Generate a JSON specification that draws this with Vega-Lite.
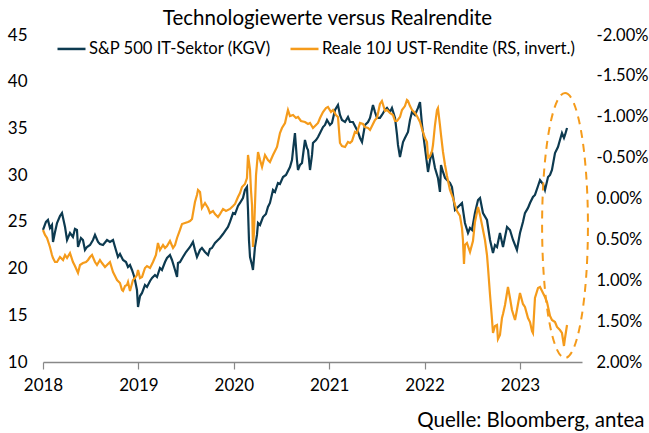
{
  "$schema": "https://vega.github.io/schema/vega-lite/v6.json",
  "width": 539,
  "height": 327,
  "autosize": {"type": "none"},
  "padding": {"left": 43, "top": 35, "right": 67, "bottom": 71},
  "background": "#ffffff",
  "config": {
    "font": "Lato",
    "view": {"stroke": null},
    "axis": {"grid": false, "labelFont": "Lato", "labelFontSize": 17, "labelColor": "#000000"}
  },
  "title": {"text": "Technologiewerte versus Realrendite", "fontSize": 20.5, "fontWeight": "normal", "color": "#000000", "frame": "group", "anchor": "middle", "dx": 15, "dy": 11, "offset": 8},
  "datasets": {
    "pe": [
      {"t":2018.000,"v":24.13},{"t":2018.031,"v":24.99},{"t":2018.052,"v":25.20},{"t":2018.073,"v":24.34},{"t":2018.094,"v":24.67},{"t":2018.105,"v":22.85},{"t":2018.126,"v":23.92},{"t":2018.147,"v":24.88},{"t":2018.178,"v":25.63},{"t":2018.199,"v":25.94},{"t":2018.231,"v":24.45},{"t":2018.252,"v":23.06},{"t":2018.283,"v":23.81},{"t":2018.314,"v":23.38},{"t":2018.335,"v":24.24},{"t":2018.356,"v":24.13},{"t":2018.367,"v":22.31},{"t":2018.398,"v":23.27},{"t":2018.419,"v":23.06},{"t":2018.440,"v":21.99},{"t":2018.461,"v":22.31},{"t":2018.493,"v":22.52},{"t":2018.524,"v":23.06},{"t":2018.545,"v":23.60},{"t":2018.577,"v":22.85},{"t":2018.597,"v":22.63},{"t":2018.629,"v":22.52},{"t":2018.671,"v":23.06},{"t":2018.702,"v":22.85},{"t":2018.734,"v":23.06},{"t":2018.755,"v":22.31},{"t":2018.786,"v":21.24},{"t":2018.807,"v":21.56},{"t":2018.839,"v":20.92},{"t":2018.870,"v":20.70},{"t":2018.891,"v":20.17},{"t":2018.912,"v":20.38},{"t":2018.933,"v":19.85},{"t":2018.954,"v":19.21},{"t":2018.964,"v":18.78},{"t":2018.985,"v":17.71},{"t":2018.996,"v":15.89},{"t":2019.017,"v":17.06},{"t":2019.038,"v":17.39},{"t":2019.069,"v":18.24},{"t":2019.090,"v":18.03},{"t":2019.122,"v":18.67},{"t":2019.143,"v":19.00},{"t":2019.174,"v":19.31},{"t":2019.195,"v":19.10},{"t":2019.226,"v":20.06},{"t":2019.247,"v":19.85},{"t":2019.279,"v":20.70},{"t":2019.300,"v":21.13},{"t":2019.331,"v":21.45},{"t":2019.352,"v":20.92},{"t":2019.384,"v":19.85},{"t":2019.405,"v":19.10},{"t":2019.415,"v":20.60},{"t":2019.436,"v":20.70},{"t":2019.467,"v":21.24},{"t":2019.499,"v":21.77},{"t":2019.541,"v":22.31},{"t":2019.572,"v":22.85},{"t":2019.593,"v":21.99},{"t":2019.614,"v":21.24},{"t":2019.646,"v":21.99},{"t":2019.666,"v":22.20},{"t":2019.698,"v":21.77},{"t":2019.730,"v":21.45},{"t":2019.750,"v":22.10},{"t":2019.771,"v":22.20},{"t":2019.803,"v":22.74},{"t":2019.834,"v":23.06},{"t":2019.855,"v":23.27},{"t":2019.887,"v":23.70},{"t":2019.908,"v":24.02},{"t":2019.939,"v":24.45},{"t":2019.960,"v":24.99},{"t":2019.992,"v":25.94},{"t":2020.013,"v":25.84},{"t":2020.044,"v":26.70},{"t":2020.065,"v":27.02},{"t":2020.096,"v":27.55},{"t":2020.117,"v":28.41},{"t":2020.138,"v":28.73},{"t":2020.149,"v":26.27},{"t":2020.159,"v":23.06},{"t":2020.170,"v":21.24},{"t":2020.191,"v":20.38},{"t":2020.201,"v":19.85},{"t":2020.222,"v":22.31},{"t":2020.243,"v":23.60},{"t":2020.254,"v":24.88},{"t":2020.275,"v":24.67},{"t":2020.306,"v":25.52},{"t":2020.337,"v":25.84},{"t":2020.358,"v":26.59},{"t":2020.379,"v":27.02},{"t":2020.411,"v":28.41},{"t":2020.432,"v":28.20},{"t":2020.463,"v":29.16},{"t":2020.484,"v":29.05},{"t":2020.516,"v":29.80},{"t":2020.547,"v":30.02},{"t":2020.589,"v":30.87},{"t":2020.610,"v":31.62},{"t":2020.621,"v":32.69},{"t":2020.641,"v":34.51},{"t":2020.662,"v":31.62},{"t":2020.673,"v":30.55},{"t":2020.694,"v":31.09},{"t":2020.715,"v":31.30},{"t":2020.746,"v":33.76},{"t":2020.767,"v":32.91},{"t":2020.778,"v":32.69},{"t":2020.799,"v":30.55},{"t":2020.820,"v":32.16},{"t":2020.830,"v":33.44},{"t":2020.862,"v":33.76},{"t":2020.883,"v":34.08},{"t":2020.904,"v":34.51},{"t":2020.935,"v":35.15},{"t":2020.956,"v":35.37},{"t":2020.977,"v":35.90},{"t":2021.008,"v":35.37},{"t":2021.029,"v":35.58},{"t":2021.061,"v":36.97},{"t":2021.092,"v":37.51},{"t":2021.113,"v":36.44},{"t":2021.134,"v":35.90},{"t":2021.166,"v":35.69},{"t":2021.197,"v":36.22},{"t":2021.218,"v":35.69},{"t":2021.249,"v":35.69},{"t":2021.281,"v":35.05},{"t":2021.302,"v":34.62},{"t":2021.323,"v":33.98},{"t":2021.344,"v":33.55},{"t":2021.375,"v":35.37},{"t":2021.407,"v":35.69},{"t":2021.428,"v":36.12},{"t":2021.459,"v":37.51},{"t":2021.480,"v":36.76},{"t":2021.501,"v":36.12},{"t":2021.532,"v":36.12},{"t":2021.553,"v":36.44},{"t":2021.585,"v":36.97},{"t":2021.606,"v":37.19},{"t":2021.637,"v":36.76},{"t":2021.658,"v":37.19},{"t":2021.690,"v":36.12},{"t":2021.711,"v":34.30},{"t":2021.721,"v":33.23},{"t":2021.742,"v":31.94},{"t":2021.774,"v":33.55},{"t":2021.794,"v":33.98},{"t":2021.826,"v":34.62},{"t":2021.847,"v":35.90},{"t":2021.868,"v":36.76},{"t":2021.899,"v":36.44},{"t":2021.931,"v":37.19},{"t":2021.952,"v":37.83},{"t":2021.973,"v":35.37},{"t":2022.004,"v":32.91},{"t":2022.036,"v":30.34},{"t":2022.057,"v":31.62},{"t":2022.078,"v":32.48},{"t":2022.109,"v":30.76},{"t":2022.140,"v":29.70},{"t":2022.161,"v":28.20},{"t":2022.172,"v":31.09},{"t":2022.193,"v":30.34},{"t":2022.214,"v":29.70},{"t":2022.235,"v":29.48},{"t":2022.266,"v":29.16},{"t":2022.287,"v":28.73},{"t":2022.319,"v":26.27},{"t":2022.350,"v":26.59},{"t":2022.392,"v":27.02},{"t":2022.423,"v":24.88},{"t":2022.455,"v":23.81},{"t":2022.476,"v":24.34},{"t":2022.497,"v":24.13},{"t":2022.528,"v":25.94},{"t":2022.560,"v":27.34},{"t":2022.581,"v":27.55},{"t":2022.612,"v":25.94},{"t":2022.654,"v":25.20},{"t":2022.686,"v":23.06},{"t":2022.717,"v":21.67},{"t":2022.738,"v":22.52},{"t":2022.759,"v":22.31},{"t":2022.790,"v":23.81},{"t":2022.822,"v":22.31},{"t":2022.864,"v":24.45},{"t":2022.895,"v":24.13},{"t":2022.927,"v":23.06},{"t":2022.968,"v":21.99},{"t":2023.000,"v":23.81},{"t":2023.031,"v":24.99},{"t":2023.052,"v":25.94},{"t":2023.084,"v":26.49},{"t":2023.105,"v":27.02},{"t":2023.136,"v":27.66},{"t":2023.157,"v":27.88},{"t":2023.189,"v":28.84},{"t":2023.210,"v":29.48},{"t":2023.241,"v":29.05},{"t":2023.262,"v":28.41},{"t":2023.294,"v":29.80},{"t":2023.315,"v":30.02},{"t":2023.335,"v":30.55},{"t":2023.367,"v":32.37},{"t":2023.398,"v":33.01},{"t":2023.419,"v":33.76},{"t":2023.440,"v":34.51},{"t":2023.461,"v":33.98},{"t":2023.472,"v":34.30},{"t":2023.493,"v":35.05}
    ],
    "ry": [
      {"t":2018.000,"v":0.385},{"t":2018.021,"v":0.446},{"t":2018.042,"v":0.483},{"t":2018.073,"v":0.593},{"t":2018.094,"v":0.691},{"t":2018.105,"v":0.728},{"t":2018.126,"v":0.777},{"t":2018.147,"v":0.777},{"t":2018.178,"v":0.716},{"t":2018.210,"v":0.752},{"t":2018.231,"v":0.691},{"t":2018.252,"v":0.728},{"t":2018.283,"v":0.667},{"t":2018.314,"v":0.777},{"t":2018.335,"v":0.826},{"t":2018.367,"v":0.911},{"t":2018.388,"v":0.813},{"t":2018.419,"v":0.789},{"t":2018.451,"v":0.777},{"t":2018.472,"v":0.752},{"t":2018.493,"v":0.716},{"t":2018.514,"v":0.691},{"t":2018.545,"v":0.777},{"t":2018.566,"v":0.813},{"t":2018.597,"v":0.752},{"t":2018.618,"v":0.789},{"t":2018.650,"v":0.838},{"t":2018.671,"v":0.813},{"t":2018.702,"v":0.777},{"t":2018.734,"v":0.899},{"t":2018.755,"v":0.948},{"t":2018.776,"v":0.997},{"t":2018.807,"v":1.034},{"t":2018.828,"v":1.119},{"t":2018.839,"v":1.131},{"t":2018.860,"v":1.070},{"t":2018.880,"v":1.058},{"t":2018.891,"v":1.021},{"t":2018.912,"v":1.131},{"t":2018.943,"v":0.997},{"t":2018.964,"v":0.973},{"t":2018.985,"v":0.936},{"t":2018.996,"v":0.875},{"t":2019.017,"v":0.973},{"t":2019.038,"v":0.960},{"t":2019.048,"v":0.924},{"t":2019.069,"v":0.850},{"t":2019.090,"v":0.826},{"t":2019.122,"v":0.850},{"t":2019.153,"v":0.777},{"t":2019.184,"v":0.691},{"t":2019.205,"v":0.544},{"t":2019.226,"v":0.630},{"t":2019.258,"v":0.569},{"t":2019.279,"v":0.605},{"t":2019.300,"v":0.581},{"t":2019.331,"v":0.520},{"t":2019.363,"v":0.605},{"t":2019.384,"v":0.569},{"t":2019.405,"v":0.483},{"t":2019.436,"v":0.385},{"t":2019.457,"v":0.312},{"t":2019.488,"v":0.300},{"t":2019.520,"v":0.287},{"t":2019.541,"v":0.275},{"t":2019.562,"v":0.251},{"t":2019.593,"v":0.043},{"t":2019.614,"v":-0.043},{"t":2019.625,"v":-0.104},{"t":2019.646,"v":-0.080},{"t":2019.666,"v":0.116},{"t":2019.698,"v":0.055},{"t":2019.730,"v":0.116},{"t":2019.750,"v":0.177},{"t":2019.782,"v":0.153},{"t":2019.803,"v":0.190},{"t":2019.834,"v":0.226},{"t":2019.855,"v":0.190},{"t":2019.887,"v":0.128},{"t":2019.918,"v":0.153},{"t":2019.960,"v":0.128},{"t":2019.992,"v":0.092},{"t":2020.013,"v":0.067},{"t":2020.044,"v":-0.018},{"t":2020.065,"v":-0.067},{"t":2020.086,"v":-0.141},{"t":2020.117,"v":-0.177},{"t":2020.138,"v":-0.251},{"t":2020.149,"v":-0.532},{"t":2020.170,"v":-0.349},{"t":2020.180,"v":-0.104},{"t":2020.191,"v":0.080},{"t":2020.201,"v":0.593},{"t":2020.212,"v":0.410},{"t":2020.233,"v":-0.287},{"t":2020.254,"v":-0.569},{"t":2020.275,"v":-0.471},{"t":2020.296,"v":-0.385},{"t":2020.327,"v":-0.532},{"t":2020.358,"v":-0.471},{"t":2020.379,"v":-0.446},{"t":2020.411,"v":-0.532},{"t":2020.432,"v":-0.581},{"t":2020.453,"v":-0.630},{"t":2020.484,"v":-0.801},{"t":2020.505,"v":-0.862},{"t":2020.537,"v":-0.924},{"t":2020.558,"v":-1.034},{"t":2020.568,"v":-1.083},{"t":2020.589,"v":-1.009},{"t":2020.621,"v":-1.021},{"t":2020.652,"v":-0.985},{"t":2020.673,"v":-0.997},{"t":2020.704,"v":-0.948},{"t":2020.746,"v":-0.936},{"t":2020.778,"v":-0.911},{"t":2020.799,"v":-0.924},{"t":2020.830,"v":-0.862},{"t":2020.862,"v":-0.899},{"t":2020.883,"v":-0.924},{"t":2020.904,"v":-0.985},{"t":2020.935,"v":-1.058},{"t":2020.966,"v":-1.107},{"t":2020.987,"v":-1.119},{"t":2021.019,"v":-1.058},{"t":2021.040,"v":-1.083},{"t":2021.071,"v":-1.021},{"t":2021.092,"v":-0.997},{"t":2021.113,"v":-0.679},{"t":2021.134,"v":-0.642},{"t":2021.166,"v":-0.630},{"t":2021.197,"v":-0.691},{"t":2021.218,"v":-0.679},{"t":2021.239,"v":-0.703},{"t":2021.270,"v":-0.814},{"t":2021.291,"v":-0.801},{"t":2021.323,"v":-0.924},{"t":2021.354,"v":-0.911},{"t":2021.375,"v":-0.875},{"t":2021.407,"v":-0.862},{"t":2021.428,"v":-0.838},{"t":2021.459,"v":-0.911},{"t":2021.480,"v":-0.960},{"t":2021.501,"v":-0.985},{"t":2021.532,"v":-1.156},{"t":2021.553,"v":-1.193},{"t":2021.585,"v":-1.070},{"t":2021.606,"v":-1.083},{"t":2021.637,"v":-1.046},{"t":2021.669,"v":-1.021},{"t":2021.690,"v":-0.948},{"t":2021.711,"v":-0.948},{"t":2021.742,"v":-0.997},{"t":2021.763,"v":-1.083},{"t":2021.794,"v":-1.131},{"t":2021.815,"v":-1.205},{"t":2021.826,"v":-1.193},{"t":2021.847,"v":-1.131},{"t":2021.868,"v":-1.083},{"t":2021.899,"v":-1.046},{"t":2021.920,"v":-1.009},{"t":2021.952,"v":-0.936},{"t":2021.973,"v":-0.850},{"t":2022.004,"v":-0.740},{"t":2022.025,"v":-0.691},{"t":2022.036,"v":-0.495},{"t":2022.057,"v":-0.520},{"t":2022.078,"v":-0.581},{"t":2022.088,"v":-0.654},{"t":2022.109,"v":-0.899},{"t":2022.130,"v":-1.083},{"t":2022.140,"v":-1.107},{"t":2022.161,"v":-0.899},{"t":2022.172,"v":-0.777},{"t":2022.193,"v":-0.569},{"t":2022.214,"v":-0.410},{"t":2022.235,"v":-0.275},{"t":2022.266,"v":-0.104},{"t":2022.298,"v":-0.006},{"t":2022.319,"v":0.080},{"t":2022.340,"v":0.153},{"t":2022.371,"v":0.214},{"t":2022.392,"v":0.361},{"t":2022.402,"v":0.508},{"t":2022.413,"v":0.801},{"t":2022.423,"v":0.569},{"t":2022.444,"v":0.544},{"t":2022.476,"v":0.654},{"t":2022.507,"v":0.520},{"t":2022.528,"v":0.287},{"t":2022.560,"v":0.104},{"t":2022.581,"v":0.202},{"t":2022.602,"v":0.324},{"t":2022.633,"v":0.508},{"t":2022.654,"v":0.691},{"t":2022.665,"v":0.850},{"t":2022.686,"v":1.180},{"t":2022.707,"v":1.486},{"t":2022.717,"v":1.645},{"t":2022.738,"v":1.560},{"t":2022.759,"v":1.547},{"t":2022.769,"v":1.719},{"t":2022.790,"v":1.670},{"t":2022.811,"v":1.462},{"t":2022.822,"v":1.413},{"t":2022.843,"v":1.303},{"t":2022.874,"v":1.083},{"t":2022.895,"v":1.217},{"t":2022.916,"v":1.364},{"t":2022.948,"v":1.486},{"t":2022.968,"v":1.364},{"t":2023.000,"v":1.156},{"t":2023.031,"v":1.290},{"t":2023.052,"v":1.327},{"t":2023.084,"v":1.462},{"t":2023.105,"v":1.511},{"t":2023.126,"v":1.621},{"t":2023.136,"v":1.645},{"t":2023.157,"v":1.217},{"t":2023.189,"v":1.095},{"t":2023.210,"v":1.083},{"t":2023.241,"v":1.156},{"t":2023.262,"v":1.205},{"t":2023.283,"v":1.266},{"t":2023.315,"v":1.437},{"t":2023.335,"v":1.486},{"t":2023.367,"v":1.511},{"t":2023.388,"v":1.572},{"t":2023.419,"v":1.609},{"t":2023.440,"v":1.645},{"t":2023.461,"v":1.804},{"t":2023.472,"v":1.706},{"t":2023.493,"v":1.547}
    ],
    "circle": [{"t": 2023.472, "v": 24.61}]
  },
  "layer": [
    {
      "data": {"name": "pe"},
      "mark": {"type": "line", "strokeWidth": 2.2},
      "encoding": {
        "x": {
          "field": "t", "type": "quantitative",
          "scale": {"domain": [2018, 2023.65], "nice": false, "zero": false},
          "axis": {
            "values": [2018, 2019, 2020, 2021, 2022, 2023], "format": "d", "labelFlush": false,
            "domainColor": "#888888", "domainWidth": 1.5, "tickColor": "#888888", "tickSize": 7, "tickWidth": 1.2,
            "labelPadding": 8,
            "title": "Quelle: Bloomberg, antea", "titleFont": "Lato", "titleFontSize": 20.5, "titleFontWeight": "normal", "titleColor": "#000000",
            "titleAnchor": "end", "titleAlign": "right", "titleBaseline": "alphabetic", "titleX": 601, "titleY": 64
          }
        },
        "y": {
          "field": "v", "type": "quantitative",
          "scale": {"domain": [10, 45], "nice": false, "zero": false},
          "axis": {"orient": "left", "values": [10, 15, 20, 25, 30, 35, 40, 45], "format": "d", "domain": false, "ticks": false, "tickSize": 0, "labelPadding": 16, "title": null}
        },
        "color": {
          "datum": "S&P 500 IT-Sektor (KGV)", "type": "nominal",
          "scale": {"domain": ["S&P 500 IT-Sektor (KGV)", "Reale 10J UST-Rendite (RS, invert.)"], "range": ["#0d3a50", "#f59b1b"]},
          "legend": {
            "orient": "none", "legendX": 13, "legendY": -2, "direction": "horizontal", "title": null,
            "symbolType": "stroke", "symbolSize": 784, "symbolStrokeWidth": 2.5,
            "labelFont": "Lato", "labelFontSize": 16.6, "labelColor": "#000000", "labelOffset": 2, "columnPadding": 14, "labelLimit": 400
          }
        }
      }
    },
    {
      "data": {"name": "ry"},
      "mark": {"type": "line", "strokeWidth": 2.2},
      "encoding": {
        "x": {"field": "t", "type": "quantitative"},
        "y": {
          "field": "v", "type": "quantitative",
          "scale": {"domain": [-2, 2], "reverse": true, "nice": false, "zero": false},
          "axis": {
            "orient": "right", "values": [-2, -1.5, -1, -0.5, 0, 0.5, 1, 1.5, 2],
            "labelExpr": "(datum.value < 0 ? '-' : '') + format(abs(datum.value), '.2f') + '%'",
            "labelFontSize": 16.5,
            "domain": false, "ticks": false, "tickSize": 0, "labelPadding": 14, "title": null
          }
        },
        "color": {"datum": "Reale 10J UST-Rendite (RS, invert.)", "type": "nominal"}
      }
    },
    {
      "data": {"name": "circle"},
      "mark": {
        "type": "point",
        "shape": "M0,-1C0.0955,-1,0.173,-0.5523,0.173,0C0.173,0.5523,0.0955,1,0,1C-0.0955,1,-0.173,0.5523,-0.173,0C-0.173,-0.5523,-0.0955,-1,0,-1Z",
        "size": 70225, "filled": false, "stroke": "#f59b1b", "strokeWidth": 2, "strokeDash": [8, 6], "opacity": 1
      },
      "encoding": {
        "x": {"field": "t", "type": "quantitative"},
        "y": {"field": "v", "type": "quantitative", "scale": {"domain": [10, 45], "nice": false, "zero": false}, "axis": null}
      }
    }
  ],
  "resolve": {"scale": {"y": "independent"}}
}
